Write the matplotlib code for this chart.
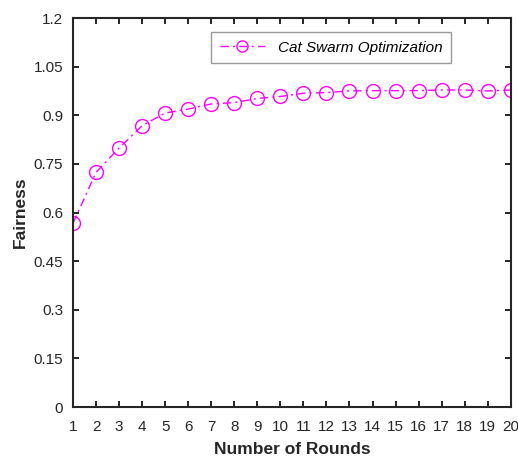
import numpy as np
import matplotlib
matplotlib.use("Agg")
import matplotlib.pyplot as plt

plt.rcParams["font.family"] = ["Liberation Sans", "DejaVu Sans"]

rounds = list(range(1, 21))
fairness = [0.567, 0.724, 0.799, 0.868, 0.907, 0.919, 0.935, 0.939, 0.952, 0.958,
            0.968, 0.970, 0.975, 0.976, 0.976, 0.976, 0.978, 0.978, 0.975, 0.978]
y_ticks = [0, 0.15, 0.3, 0.45, 0.6, 0.75, 0.9, 1.05, 1.2]
y_labels = ["0", "0.15", "0.3", "0.45", "0.6", "0.75", "0.9", "1.05", "1.2"]

fig = plt.figure(figsize=(5.18, 4.62), dpi=100)
ax = fig.add_axes([0.141, 0.119, 0.845, 0.842])
ax.plot(rounds, fairness, linestyle=(0, (6, 3, 1.5, 3)), color="magenta", lw=1.0,
        marker="o", markersize=10, markerfacecolor="none", markeredgewidth=1.0,
        label="Cat Swarm Optimization")

ax.set_xlim(1, 20)
ax.set_ylim(0, 1.2)
ax.set_xticks(rounds)
ax.set_yticks(y_ticks)
ax.set_yticklabels(y_labels)
ax.tick_params(direction="in", top=True, right=True, length=4, width=1.2,
               labelsize=11, labelcolor="#262626")
ax.tick_params(axis="x", pad=9)
ax.tick_params(axis="y", pad=7)
for s in ax.spines.values():
    s.set_linewidth(1.5)
    s.set_color("#262626")
ax.set_xlabel("Number of Rounds", fontsize=12.5, fontweight="bold", color="#262626", labelpad=6)
ax.set_ylabel("Fairness", fontsize=12.5, fontweight="bold", color="#262626", labelpad=4)

leg = ax.legend(loc="upper center", bbox_to_anchor=(0.589, 0.983), fancybox=False,
                framealpha=1, edgecolor="#999999", handlelength=3.0, markerscale=0.8,
                borderpad=0.55, prop={"style": "italic", "size": 11})
leg.get_frame().set_linewidth(1.0)

fig.savefig("out.png", dpi=100)
